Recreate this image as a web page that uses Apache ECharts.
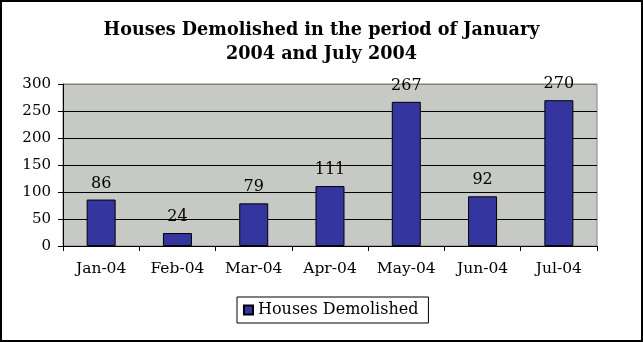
<!DOCTYPE html>
<html>
<head>
<meta charset="utf-8">
<script src="https://cdn.jsdelivr.net/npm/echarts@6/dist/echarts.min.js"></script>
<style>
  html, body { margin: 0; padding: 0; background: #fff; }
  #frame { width: 643px; height: 342px; box-sizing: border-box; border: 2px solid #000; position: relative; }
  #chart { position: absolute; left: -2px; top: -2px; width: 643px; height: 342px; }
</style>
</head>
<body>
<div id="frame"><div id="chart"></div></div>
<script>
const titleText = 'Houses Demolished in the period of January\n2004 and July 2004';
const seriesName = 'Houses Demolished';
const months = ['Jan-04', 'Feb-04', 'Mar-04', 'Apr-04', 'May-04', 'Jun-04', 'Jul-04'];
const demolished = [86, 24, 79, 111, 267, 92, 270];
const yTicks = { min: 0, max: 300, interval: 50 };

const serif = 'DejaVu Serif';
const chart = echarts.init(document.getElementById('chart'), null, { renderer: 'canvas' });

chart.setOption({
  animation: false,
  backgroundColor: 'transparent',
  title: {
    text: titleText,
    left: 'center',
    top: 13,
    textStyle: { fontFamily: serif, fontSize: 17.6, fontWeight: 'bold', color: '#000', lineHeight: 24 }
  },
  grid: {
    left: 63, right: 46, top: 84, bottom: 96,
    show: true, backgroundColor: '#c6c9c4', borderColor: '#808080', borderWidth: 1
  },
  legend: {
    data: [seriesName],
    left: 237,
    top: 297,
    itemWidth: 9, itemHeight: 9, itemGap: 6,
    padding: [5, 10, 5, 6],
    borderColor: '#000', borderWidth: 1, borderRadius: 0,
    icon: 'rect',
    textStyle: { fontFamily: serif, fontSize: 16, color: '#000' }
  },
  xAxis: {
    type: 'category',
    data: months,
    axisLine: { lineStyle: { color: '#000', width: 1 } },
    axisTick: { show: true, length: 5, lineStyle: { color: '#000' } },
    axisLabel: { interval: 0, fontFamily: serif, fontSize: 15.5, color: '#000', margin: 15 }
  },
  yAxis: {
    type: 'value',
    min: yTicks.min, max: yTicks.max, interval: yTicks.interval,
    axisLine: { show: true, lineStyle: { color: '#000', width: 1 } },
    axisTick: { show: true, length: 5, lineStyle: { color: '#000' } },
    axisLabel: { fontFamily: serif, fontSize: 15, color: '#000', margin: 12 },
    splitLine: { show: true, lineStyle: { color: ['#000', '#000', '#000', '#000', '#000', '#000', '#808080'], width: 1 } }
  },
  series: [{
    name: seriesName,
    type: 'bar',
    data: demolished,
    barWidth: '38%',
    itemStyle: { color: '#3535a0', borderColor: '#000', borderWidth: 1 },
    label: {
      show: true, position: 'top', distance: 8,
      fontFamily: serif, fontSize: 16, color: '#000'
    }
  }]
});
</script>
</body>
</html>
